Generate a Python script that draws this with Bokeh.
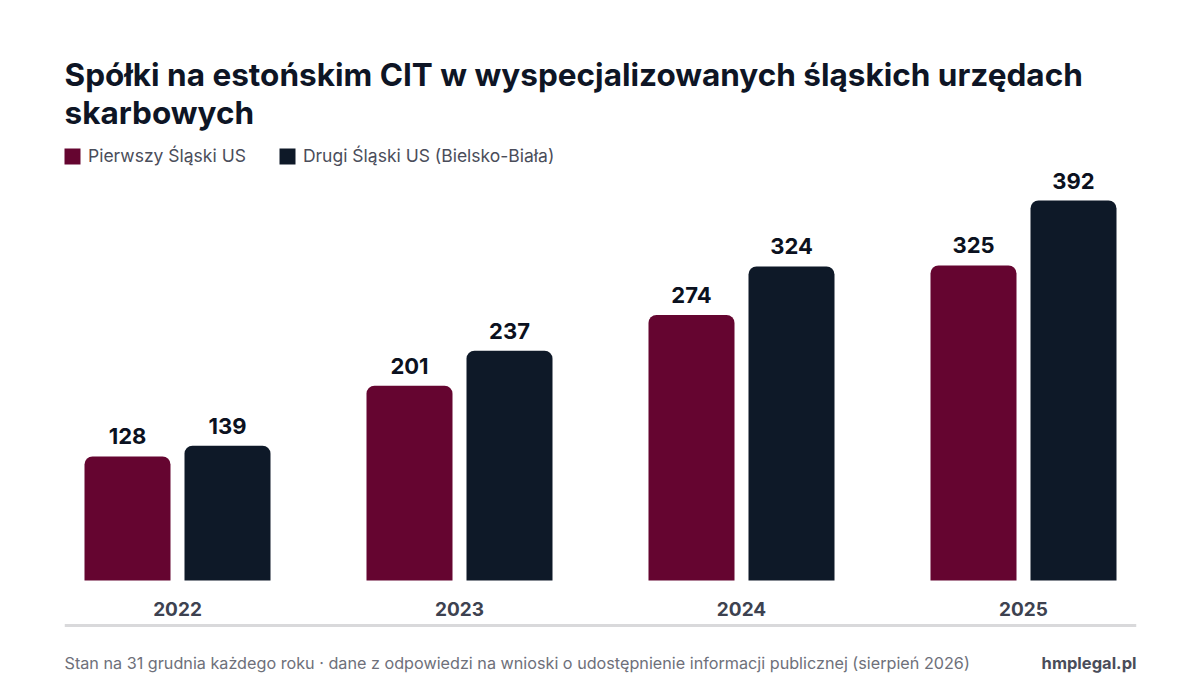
from bokeh.plotting import figure
from bokeh.models import Range1d, Label, Span, Legend, LegendItem, ColumnDataSource
from bokeh.embed import file_html
from bokeh.resources import INLINE
from bokeh.core.properties import value

# ---- data ----
years = ["2022", "2023", "2024", "2025"]
series_names = ["Pierwszy Śląski US", "Drugi Śląski US (Bielsko-Biała)"]
pierwszy = [128, 201, 274, 325]
drugi = [139, 237, 324, 392]
colors = ["#650530", "#0e1928"]

title_lines = ["Spółki na estońskim CIT w wyspecjalizowanych śląskich urzędach", "skarbowych"]
footer_left = "Stan na 31 grudnia każdego roku · dane z odpowiedzi na wnioski o udostępnienie informacji publicznej (sierpień 2026)"
footer_right = "hmplegal.pl"

FONT = "Inter"

# ---- layout constants (pixels) ----
W, H = 1184, 684
ML = 64
frame_w = 1072
MR = W - ML - frame_w
group_step = 282.0
first_center = 113.0
base_from_bottom = 104.0
px_per_unit = 380.0 / 392.0

x_start = -first_center / group_step
x_end = x_start + frame_w / group_step
y_start = -base_from_bottom / px_per_unit
y_end = y_start + H / px_per_unit

p = figure(width=W, height=H, output_backend="svg", toolbar_location=None,
           x_range=Range1d(x_start, x_end), y_range=Range1d(y_start, y_end),
           x_axis_type=None, y_axis_type=None,
           min_border_left=ML, min_border_right=MR, min_border_top=0, min_border_bottom=0)
p.outline_line_color = None
p.grid.visible = False
p.background_fill_color = "white"
p.border_fill_color = "white"

xs = list(range(len(years)))
bw = 86.0 / group_step
off = 50.0 / group_step

src1 = ColumnDataSource(dict(x=[x - off for x in xs], top=pierwszy, lab=[str(v) for v in pierwszy]))
src2 = ColumnDataSource(dict(x=[x + off for x in xs], top=drugi, lab=[str(v) for v in drugi]))

r1 = p.vbar(x="x", top="top", bottom=0, width=bw, source=src1, fill_color=colors[0],
            line_color=None, border_radius=(8, 8, 0, 0))
r2 = p.vbar(x="x", top="top", bottom=0, width=bw, source=src2, fill_color=colors[1],
            line_color=None, border_radius=(8, 8, 0, 0))

for src in (src1, src2):
    p.text(x="x", y="top", text="lab", source=src, text_align="center", text_baseline="middle",
           y_offset=-20, text_font=value(FONT), text_font_style="bold", text_font_size="22px",
           text_color="#0b1120")

ysrc = ColumnDataSource(dict(x=xs, y=[0] * len(xs), t=years))
p.text(x="x", y="y", text="t", source=ysrc, text_align="center", text_baseline="middle",
       y_offset=28, text_font=value(FONT), text_font_style="bold", text_font_size="19px",
       text_color="#3d4250")

# separator
p.add_layout(Span(location=-45.0 / px_per_unit, dimension="width", line_color="#d9d9db", line_width=3))

# title
for t, yc in zip(title_lines, [610, 572]):
    p.add_layout(Label(x=0, y=yc, x_units="screen", y_units="screen", text=t,
                       text_font=FONT, text_font_style="bold", text_font_size="31.5px",
                       text_color="#0e1525", text_baseline="middle"))

# legend
legend = Legend(items=[LegendItem(label=series_names[0], renderers=[r1]),
                       LegendItem(label=series_names[1], renderers=[r2])],
                orientation="horizontal", location=(-2, 518),
                glyph_width=20, glyph_height=20, label_height=20, label_standoff=6,
                spacing=31, padding=0, margin=0, border_line_alpha=0, background_fill_alpha=0,
                label_text_font=FONT, label_text_font_size="17.5px", label_text_color="#4a4d5a",
                label_text_font_style="normal")
p.add_layout(legend, "center")

# footer
p.add_layout(Label(x=0, y=22, x_units="screen", y_units="screen", text=footer_left,
                   text_font=FONT, text_font_size="16.2px", text_color="#6e707a", text_baseline="middle"))
p.add_layout(Label(x=frame_w, y=22, x_units="screen", y_units="screen", text=footer_right,
                   text_font=FONT, text_font_size="16.5px", text_font_style="bold", text_color="#4a4d5a",
                   text_baseline="middle", text_align="right"))

open("out.html", "w").write(file_html(p, INLINE))
